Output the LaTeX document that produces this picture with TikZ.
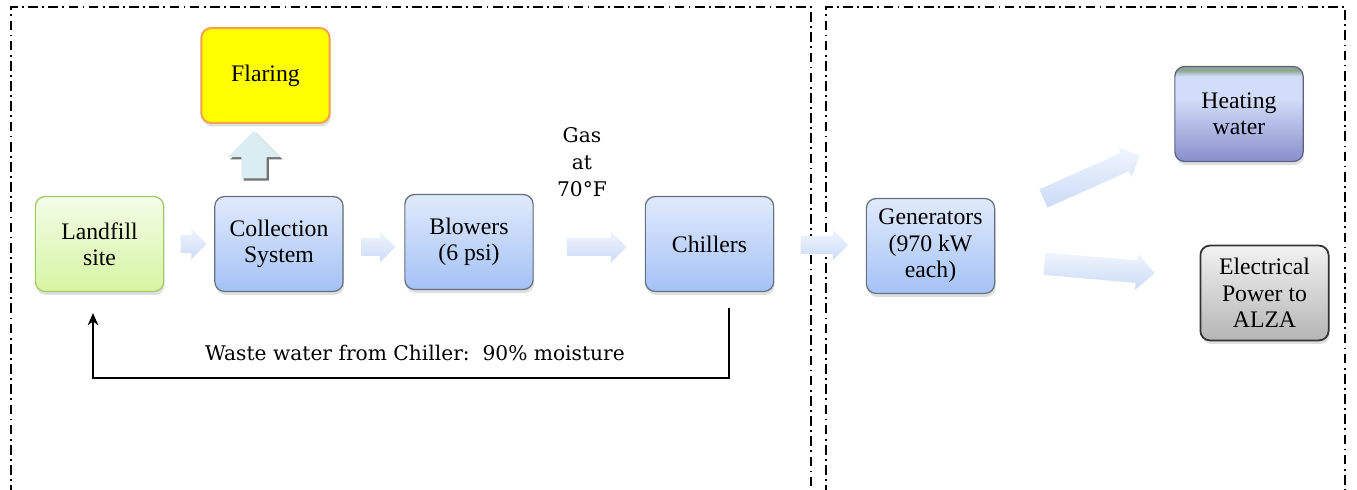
\documentclass[tikz,border=0pt]{standalone}
\usepackage{fontspec}
\setmainfont{Liberation Serif}
\newfontfamily\notefont{DejaVu Serif}
\usepackage{tikz}
\usetikzlibrary{positioning}
\usetikzlibrary{calc,shapes.arrows,shadows}
\usetikzlibrary{arrows.meta}

\definecolor{landtop}{HTML}{F3FCE8}
\definecolor{landbot}{HTML}{D6F5A2}
\definecolor{landline}{HTML}{A3C866}
\definecolor{bluetop}{HTML}{E1EAFC}
\definecolor{bluebot}{HTML}{A4C2F6}
\definecolor{stageline}{HTML}{66707F}
\definecolor{flareline}{HTML}{F5A04A}
\definecolor{heatbot}{HTML}{888ECB}
\definecolor{heatmid}{HTML}{D2DDF9}
\definecolor{heatgreen}{HTML}{8CA690}
\definecolor{heatline}{HTML}{5C6184}
\definecolor{powtop}{HTML}{F2F2F2}
\definecolor{powbot}{HTML}{B5B5B5}
\definecolor{arrowtop}{HTML}{F0F5FE}
\definecolor{arrowbot}{HTML}{CCDBF7}
\definecolor{uparrow}{HTML}{DAEDF3}

\pgfdeclareverticalshading{heatshade}{100bp}{color(0bp)=(heatbot); color(25bp)=(heatbot);
  color(58bp)=(heatmid); color(70bp)=(heatmid); color(73bp)=(heatgreen); color(100bp)=(heatgreen)}

\tikzset{
  stage/.style={draw=stageline, line width=0.7pt, rounded corners=5.5pt,
    minimum width=73pt, minimum height=54pt, align=center, inner sep=2pt,
    font=\fontsize{13.5}{15}\selectfont, top color=bluetop, bottom color=bluebot,
    drop shadow={opacity=0.25, shadow xshift=0.6pt, shadow yshift=-2pt}},
  flowarrow/.style={single arrow, draw=none, inner xsep=0pt, inner ysep=4.8pt,
    single arrow head extend=3.7pt, top color=arrowtop, bottom color=arrowbot},
  frame/.style={line width=0.8pt, dash pattern=on 5.5pt off 2.5pt on 1pt off 2.5pt},
  note/.style={font=\notefont\fontsize{11.5}{15.3}\selectfont, align=center},
}

\begin{document}
\begin{tikzpicture}[x=0.02cm,y=-0.02cm]
\useasboundingbox (0,0) rectangle (1357,490);
% frames
\draw[frame] (11,495) -- (11,7) -- (811,7) -- (811,495);
\draw[frame] (826,495) -- (826,7) -- (1345,7) -- (1345,495);

% stages
\node[stage, top color=landtop, bottom color=landbot, draw=landline] (landfill) at (99.5,244) {Landfill\\site};
\node[stage, right=1cm of landfill] (collect) {Collection\\System};
\node[stage] (blowers) at (469,242) {Blowers\\(6 psi)};
\node[stage] (chillers) at (709.5,244) {Chillers};
\node[stage, top color=yellow, bottom color=yellow, draw=flareline, line width=1.1pt] (flaring) at (265.5,75.5) {Flaring};
\node[stage] (gens) at (930.5,246) {Generators\\(970 kW\\each)};
\node[stage, shading=heatshade, draw=heatline] (heating) at (1239,114) {Heating\\water};
\node[stage, top color=powtop, bottom color=powbot, draw=black!80, line width=1pt] (power) at (1264.5,293) {Electrical\\Power to\\ALZA};

% flow arrows
\node[flowarrow, minimum height=14.7pt] (a1) at ($(landfill.east)!0.5!(collect.west)$) {};
\node[flowarrow, minimum height=19.3pt] (a2) at ($(collect.east)!0.5!(blowers.west)+(0,4)$) {};
\node[flowarrow, minimum height=34pt] (a3) at ($(blowers.east)!0.5!(chillers.west)+(3,4)$) {};
\node[flowarrow, minimum height=27pt] (a4) at ($(chillers.east)!0.5!(gens.west)$) {};
\node[flowarrow, minimum height=60pt, inner ysep=5.5pt, single arrow head extend=3.5pt, rotate=24] (a5) at (1087,179) {};
\node[flowarrow, minimum height=63pt, inner ysep=6.2pt, single arrow head extend=4pt, rotate=-5] (a6) at (1094,268) {};
\node[single arrow, rotate=90, draw=none, fill=uparrow, inner xsep=0pt, inner ysep=7pt,
  single arrow head extend=7.7pt, minimum height=27pt,
  drop shadow={fill=black!65, opacity=0.85, shadow xshift=1.3pt, shadow yshift=-1.3pt}] (up) at (254,161) {};

% labels
\node[note] (gas) at (582,162) {Gas\\at\\70°F};

% waste water return
\coordinate (wstart) at (729,308);
\coordinate (wend) at (93,313);
\draw[line width=1.1pt, -{Stealth[length=7pt,width=6pt]}] (wstart) -- (wstart |- 0,378) -| (wend);
\node[note] (waste) at (415,353) {Waste water from Chiller:\ \ 90\% moisture};
\end{tikzpicture}
\end{document}
